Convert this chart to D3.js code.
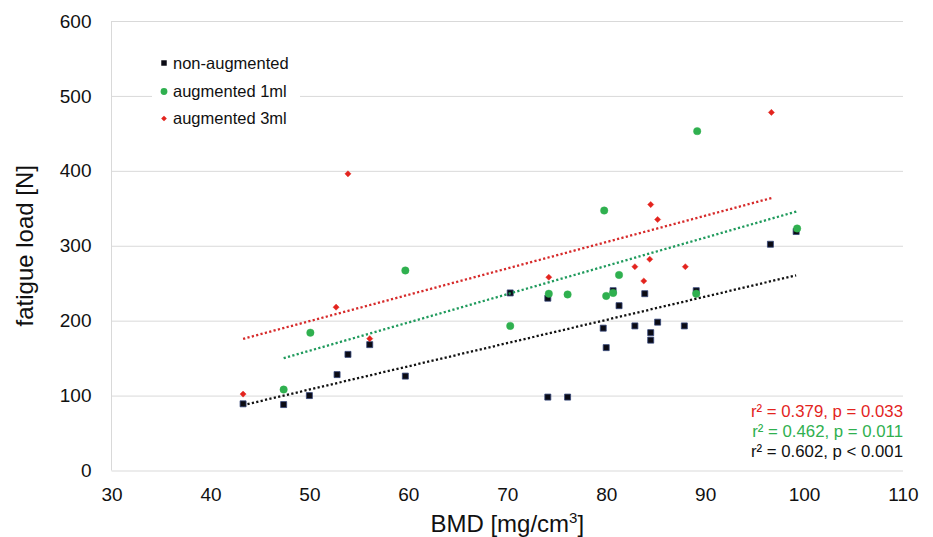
<!DOCTYPE html>
<html lang="en">
<head>
  <meta charset="UTF-8">
  <title>Fatigue load vs BMD</title>
  <script src="https://d3js.org/d3.v7.min.js"></script>
  <style type="text/css">
    body { margin: 0; background: #fff; }
    text { font-family: "Liberation Sans", Arial, sans-serif; }
  </style>
</head>
<body>
<script type="text/javascript">
  // values
  var bmdNon  = [43.3, 47.4, 50.0, 52.8, 53.9, 56.1, 59.7, 70.3, 74.1, 74.1, 76.1, 79.7,
                 80.0, 80.7, 81.3, 82.9, 83.9, 84.5, 84.5, 85.2, 87.9, 89.1, 96.6, 99.2];
  var loadNon = [89, 88, 100, 128, 155, 168, 126, 237, 230, 98, 98, 190,
                 164, 240, 220, 193, 236, 184, 174, 198, 193, 240, 302, 319];

  var bmd1  = [47.4, 50.1, 59.7, 70.3, 74.2, 76.1, 79.8, 80.0, 80.7, 81.3, 89.1, 89.2, 99.3];
  var load1 = [108, 184, 267, 193, 236, 235, 347, 233, 237, 261, 236, 453, 323];

  var bmd3  = [43.3, 53.9, 52.7, 56.1, 74.2, 84.5, 85.2, 84.4, 82.9, 83.8, 88.0, 96.7];
  var load3 = [102, 396, 218, 176, 258, 355, 335, 282, 272, 253, 272, 478];

  var xTicks = [30, 40, 50, 60, 70, 80, 90, 100, 110];
  var yTicks = [0, 100, 200, 300, 400, 500, 600];

  var seriesNames  = ["non-augmented", "augmented 1ml", "augmented 3ml"];
  var seriesColors = ["#0b0b14", "#2fb04f", "#e3241e"];
  var trendColors  = ["#111111", "#1f9a5c", "#d62a2a"];
  var statLines    = ["r\u00b2 = 0.379, p = 0.033", "r\u00b2 = 0.462, p = 0.011", "r\u00b2 = 0.602, p < 0.001"];
  var statColors   = ["#e3241e", "#2fb04f", "#111111"];

  var width = 933, height = 537;
  var margin = {top: 21, right: 30, bottom: 67, left: 111.5};

  var svg = d3.select("body").append("svg")
              .attr("width", width)
              .attr("height", height);

  var x = d3.scaleLinear().domain([30, 110]).range([margin.left, width - margin.right]);
  var y = d3.scaleLinear().domain([0, 600]).range([height - margin.bottom + 0.5, margin.top]);

  // y grid + labels
  var yAxis = svg.append("g")
      .attr("transform", "translate(" + margin.left + ",0)")
      .call(d3.axisLeft(y).tickValues(yTicks)
              .tickSize(-(width - margin.right - margin.left))
              .tickPadding(20));
  yAxis.select(".domain").remove();
  yAxis.selectAll(".tick line").attr("stroke", "#d9d9d9");
  yAxis.selectAll("text").attr("font-size", 19).attr("fill", "#111");

  // left axis line
  svg.append("line")
      .attr("x1", x(30)).attr("x2", x(30))
      .attr("y1", y(600)).attr("y2", y(0))
      .attr("stroke", "#d9d9d9");

  var xAxis = svg.append("g")
      .attr("transform", "translate(0," + y(0) + ")")
      .call(d3.axisBottom(x).tickValues(xTicks).tickSize(0).tickPadding(17));
  xAxis.select(".domain").remove();
  xAxis.selectAll("text").attr("font-size", 19).attr("fill", "#111");

  // axis titles
  var xTitle = svg.append("text")
      .attr("x", (x(30) + x(110)) / 2)
      .attr("y", 532)
      .attr("text-anchor", "middle")
      .attr("font-size", 24)
      .attr("fill", "#111");
  xTitle.append("tspan").text("BMD [mg/cm");
  xTitle.append("tspan").attr("font-size", 15).attr("dy", -9).text("3");
  xTitle.append("tspan").attr("dy", 9).text("]");

  svg.append("text")
      .attr("transform", "translate(33," + (y(0) + y(600)) / 2 + ") rotate(-90)")
      .attr("text-anchor", "middle")
      .attr("font-size", 24)
      .attr("fill", "#111")
      .text("fatigue load [N]");

  var series = [
    {xs: bmdNon, ys: loadNon},
    {xs: bmd1, ys: load1},
    {xs: bmd3, ys: load3}
  ];

  // points (diamond = square turned 45 degrees)
  var plot = svg.append("g");
  var symbols = [d3.symbolSquare, d3.symbolCircle, d3.symbolSquare];
  var symSizes = [36, 44, 19];
  var symRot = [0, 0, 45];
  series.forEach(function(s, i) {
    var pts = s.xs.map(function(v, j) { return [v, s.ys[j]]; });
    plot.selectAll(".p" + i)
        .data(pts)
        .enter()
        .append("path")
        .attr("class", "p" + i)
        .attr("transform", function(d) {
          return "translate(" + x(d[0]) + "," + y(d[1]) + ") rotate(" + symRot[i] + ")";
        })
        .attr("d", d3.symbol().type(symbols[i]).size(symSizes[i]))
        .attr("fill", seriesColors[i])
        .attr("stroke", i == 0 ? "#34457a" : seriesColors[i])
        .attr("stroke-width", i == 0 ? 0.8 : 0.4)
        .attr("stroke-linejoin", "round");
  });

  // least squares trend lines over each series range
  function fit(xs, ys) {
    var mx = d3.mean(xs), my = d3.mean(ys);
    var sxy = d3.sum(xs, function(v, j) { return (v - mx) * (ys[j] - my); });
    var sxx = d3.sum(xs, function(v) { return (v - mx) * (v - mx); });
    var b = sxy / sxx;
    return function(v) { return my + b * (v - mx); };
  }
  series.forEach(function(s, i) {
    var f = fit(s.xs, s.ys);
    var ext = d3.extent(s.xs);
    svg.append("line")
        .attr("x1", x(ext[0])).attr("y1", y(f(ext[0])))
        .attr("x2", x(ext[1])).attr("y2", y(f(ext[1])))
        .attr("stroke", trendColors[i])
        .attr("stroke-width", 2.3)
        .attr("stroke-dasharray", "2.2 2.3");
  });

  // legend
  var legend = svg.append("g");
  legend.append("rect")
      .attr("x", 152).attr("y", 48)
      .attr("width", 148).attr("height", 84)
      .attr("fill", "#fff");
  var rows = legend.selectAll(".row")
      .data(seriesNames)
      .enter()
      .append("g")
      .attr("transform", function(d, i) { return "translate(164," + [63, 91.5, 118.5][i] + ")"; });
  rows.append("path")
      .attr("transform", function(d, i) { return "rotate(" + symRot[i] + ")"; })
      .attr("d", function(d, i) { return d3.symbol().type(symbols[i]).size([30, 36, 16][i])(); })
      .attr("fill", function(d, i) { return seriesColors[i]; });
  rows.append("text")
      .attr("x", 9)
      .attr("dy", "0.35em")
      .attr("font-size", 16.5)
      .attr("fill", "#111")
      .text(function(d) { return d; });

  // statistics
  svg.selectAll(".stat")
      .data(statLines)
      .enter()
      .append("text")
      .attr("class", "stat")
      .attr("x", 903)
      .attr("y", function(d, i) { return [411, 431, 451][i]; })
      .attr("dy", "0.35em")
      .attr("text-anchor", "end")
      .attr("font-size", 16.8)
      .attr("fill", function(d, i) { return statColors[i]; })
      .text(function(d) { return d; });
</script>
</body>
</html>
